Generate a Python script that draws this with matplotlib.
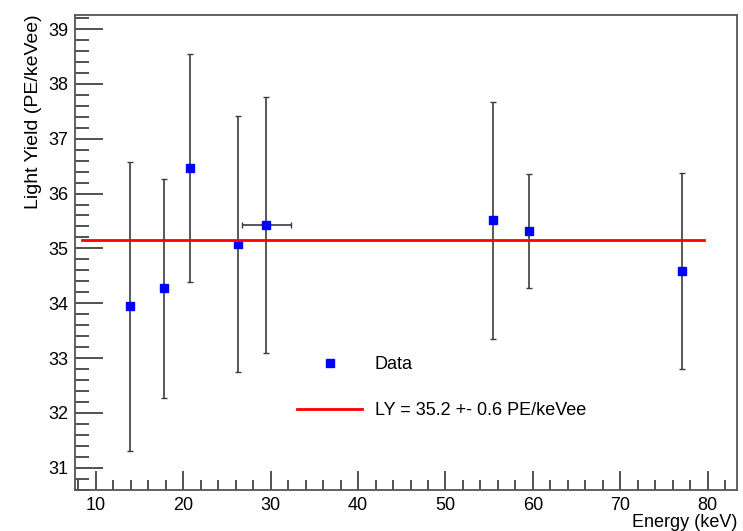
import matplotlib.pyplot as plt
import numpy as np
from matplotlib.ticker import MultipleLocator

plt.rcParams['font.family'] = ['Liberation Sans', 'DejaVu Sans']

#------------------------------------------------------------------------------
# Data
energy = [13.9, 17.8, 20.8, 26.3, 29.5, 55.4, 59.6, 77.0]
energy_err = [0.0, 0.0, 0.0, 0.0, 2.8, 0.3, 0.0, 0.0]
light_yield = [33.94, 34.27, 36.46, 35.08, 35.43, 35.51, 35.32, 34.59]
light_yield_err = [2.63, 2.00, 2.08, 2.34, 2.34, 2.16, 1.04, 1.79]

fit_value = 35.16
fit_range = [8.4, 79.6]
fit_label = "LY = 35.2 +- 0.6 PE/keVee"

#------------------------------------------------------------------------------
# Plot
fig = plt.figure(figsize=(7.43, 5.31), dpi=100)
ax = fig.add_axes([0.101, 0.077, 0.891, 0.895])

ax.errorbar(energy, light_yield, xerr=energy_err, yerr=light_yield_err,
            fmt='none', ecolor='#3c3c3c', elinewidth=1.2, capsize=2.5,
            capthick=1.0, zorder=2)
data_pts, = ax.plot(energy, light_yield, 's', color='#0000ff',
                    markersize=6, zorder=3)
fit_line, = ax.plot(fit_range, [fit_value, fit_value], color='#ff0000',
                    lw=2, zorder=4)

ax.set_xlim(7.63, 83.35)
ax.set_ylim(30.59, 39.26)

ax.xaxis.set_major_locator(MultipleLocator(10))
ax.xaxis.set_minor_locator(MultipleLocator(2))
ax.yaxis.set_major_locator(MultipleLocator(1))
ax.yaxis.set_minor_locator(MultipleLocator(0.2))

ax.tick_params(which='both', direction='in', top=False, right=False,
               labelsize=13, color='#333333', width=1.2)
ax.tick_params(axis='y', which='major', length=20, pad=5)
ax.tick_params(axis='y', which='minor', length=10)
ax.tick_params(axis='x', which='major', length=14, pad=5)
ax.tick_params(axis='x', which='minor', length=7)

for side in ax.spines.values():
    side.set_color('#555555')
    side.set_linewidth(1.3)

ax.set_xlabel("Energy (keV)", fontsize=13, loc='right', labelpad=0)
ax.set_ylabel("Light Yield (PE/keVee)", fontsize=14, loc='top', labelpad=4)

ax.legend([data_pts, fit_line], ["Data", fit_label], loc='lower left',
          bbox_to_anchor=(0.311, 0.115), frameon=False, fontsize=13,
          handlelength=3.6, labelspacing=1.6, handletextpad=0.7)

fig.savefig("out.png", dpi=100)
